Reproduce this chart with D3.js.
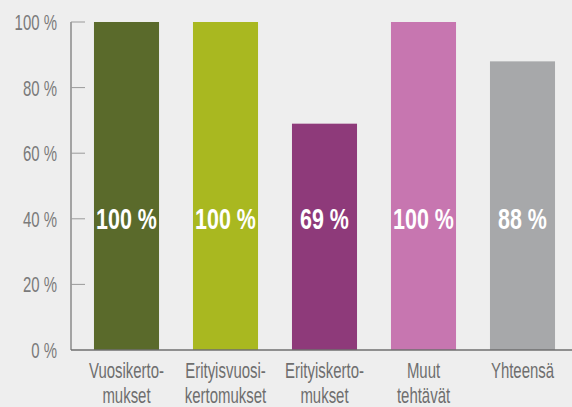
<!DOCTYPE html>
<html><head><meta charset="utf-8">
<script src="https://cdn.jsdelivr.net/npm/d3@7"></script>
<style>
html,body{margin:0;padding:0;background:#eeeeee;}
svg{display:block;}
text{font-family:"Liberation Sans",Arial,sans-serif;}
</style></head>
<body>
<svg id="chart" width="572" height="407"></svg>
<script>
const categories = [["Vuosikerto-","mukset"],["Erityisvuosi-","kertomukset"],["Erityiskerto-","mukset"],["Muut","tehtävät"],["Yhteensä"]];
const values = [100, 100, 69, 100, 88];
const valueLabels = ["100 %","100 %","69 %","100 %","88 %"];
const colors = ["#5a6a2b","#a9b820","#8e3a7a","#c776b0","#a7a8aa"];
const yTicks = [0,20,40,60,80,100];

const svg = d3.select("#chart");
const W = 572, H = 407;
const SX = 0.68; // condensed look
const y = d3.scaleLinear().domain([0,100]).range([350,22]);
const x = d3.scaleBand().domain(d3.range(values.length)).range([77,572]).paddingInner(0.343).paddingOuter(0.1715);

svg.append("rect").attr("width",W).attr("height",H).attr("fill","#eeeeee");

// bars
svg.selectAll("rect.bar").data(values).enter().append("rect")
  .attr("class","bar")
  .attr("x",(d,i)=>x(i)).attr("width",x.bandwidth())
  .attr("y",d=>y(d)).attr("height",d=>y(0)-y(d))
  .attr("fill",(d,i)=>colors[i]);

// axis
const ax = svg.append("g").attr("transform","translate(71,0)");
ax.append("line").attr("x1",0).attr("x2",0).attr("y1",y(100)).attr("y2",y(0)).attr("stroke","#8a8a8a").attr("stroke-width",1.5);
ax.selectAll("line.tick").data(yTicks.filter(t=>t>0)).enter().append("line")
  .attr("x1",0).attr("x2",14).attr("y1",d=>y(d)).attr("y2",d=>y(d)).attr("stroke","#9a9a9a").attr("stroke-width",1);
ax.selectAll("text.tl").data(yTicks).enter().append("text")
  .attr("transform",d=>`translate(-14,${y(d)}) scale(${SX},1)`).attr("dy","0.36em").attr("text-anchor","end")
  .attr("fill","#7a7a7a").style("font-size","22px").text(d=>d+" %");
// baseline
svg.append("line").attr("x1",71).attr("x2",W).attr("y1",y(0)).attr("y2",y(0)).attr("stroke","#6f6f6f").attr("stroke-width",1.5);

// value labels
svg.selectAll("text.vl").data(valueLabels).enter().append("text")
  .attr("transform",(d,i)=>`translate(${x(i)+x.bandwidth()/2},${y(40)}) scale(0.74,1)`).attr("dy","0.36em")
  .attr("text-anchor","middle").attr("fill","#ffffff").style("font-size","29px").style("font-weight","bold")
  .text(d=>d);

// category labels
categories.forEach((lines,i)=>{
  lines.forEach((l,j)=>{
    svg.append("text").attr("transform",`translate(${x(i)+x.bandwidth()/2},${378+j*25}) scale(${SX},1)`)
      .attr("text-anchor","middle").attr("fill","#6e6e6e").style("font-size","22px").text(l);
  });
});
</script>
</body></html>
